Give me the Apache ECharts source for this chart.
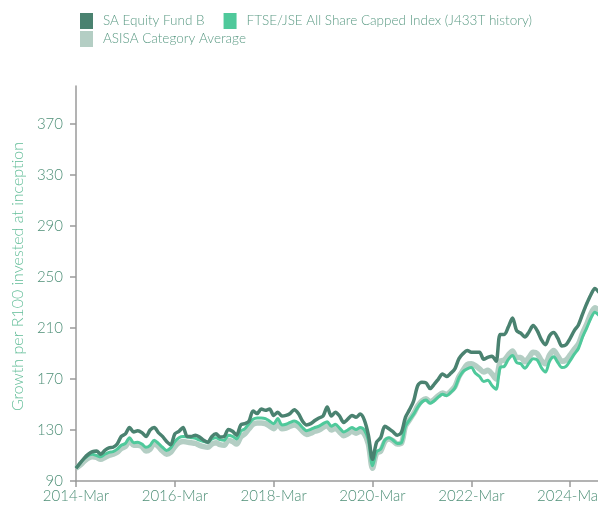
<!DOCTYPE html>
<html>
<head>
<meta charset="utf-8">
<script src="https://cdn.jsdelivr.net/npm/echarts@6/dist/echarts.min.js"></script>
<style>
html,body{margin:0;padding:0;background:#fff;}
#chart{width:598px;height:507px;}
</style>
</head>
<body>
<div id="chart"></div>
<script>
const startYear = 2014;
const monthNames = ['Jan','Feb','Mar','Apr','May','Jun','Jul','Aug','Sep','Oct','Nov','Dec'];
const yTicks = [90,130,170,210,250,290,330,370];

const fundB = [
100,104,108,111,113,113.5,111,114,116,116.5,
119,125,127,132,128.5,129.5,128,125,130,132,
128,125,121,118.5,127,129,132,125,125,126,
124.5,122,120.5,125,127,124.5,125,130.5,129,126,
134,135,137,145,143,146.5,145.5,146.5,141.5,144,
141,141.5,143,146,143,137,134,135,137.5,139.5,
141,148,141,144,141,136,138.5,141.5,140,142.5,
138,126,107,120.5,124,133,131,128.5,126,128,
140,146,153,165,167.5,167,162.5,166,170,174,
172,174.5,178,186,190,192.5,191,191,191,185.5,
187,188,184,205,205,211,218,208,206,203,
207,212,208,201,197,204,206.5,202,196,197,
202,208,212.5,221,229,236,241,238
];

const ftseJse = [
100,104,107.5,110,111,110,109,111,112.5,113,
115,118,119.5,124,120,120.5,119,116.5,118,122,
119.5,116.5,114,116,121,124,125,124.5,124,123.5,
122,121,120.5,123,124,122.5,122,126,125,123,
129,131,135,138.5,139.5,139.5,139,137,135,139,
134,134.5,136,137,135.5,132,129.5,130.5,132,133,
135,136.5,133,134.5,131.5,128.5,130,132,130.5,132,
130,122,102,113,115,122,124,122,119.5,120,
133,138,142.5,148,152,153.5,151,153,156,158,
157,159.5,163,171,176,178,179,174.5,172,168,
169,165,162,179,180,185.5,188.5,183,182,178.5,
182.5,186,185,179,175.5,184,187.5,183,179,180,
184.5,189.5,194,203,210,217.5,222.5,220
];

const asisaAvg = [
100,102.5,105.5,108,109,108.5,107,108.5,110,111,
112.5,115.5,117,121.5,118,118,117,113.5,115,119.5,
117,113.5,111,112.5,117,120,121,120.5,120,119.5,
118,117,116.5,119,120,118.5,118,122,121,119,
124.5,127,131,134.5,135.5,135.5,135,133,131,135,
131,131.5,133,134,132.5,129,126.5,127.5,129,130,
132,133.5,130,131.5,128.5,125.5,127,129,127.5,129,
127,119,100,112,113.5,121,123,121.5,119,119.5,
133,138,143,149,153,154.5,152,154,157,159,
158,160.5,164,172,177,181.5,182,180.5,178,175.5,
177,174,170,184,185,189,192,187,187,183.5,
187,191,190,184.5,182,189,192.5,188,184,185,
189,193.5,197.5,206,213,221,226,224
];

const categories = [];
for (let i = 0; i < fundB.length; i++) {
  const m = (2 + i) % 12;
  const y = startYear + Math.floor((2 + i) / 12);
  categories.push(y + '-' + monthNames[m]);
}

const names = ['SA Equity Fund B','FTSE/JSE All Share Capped Index (J433T history)','ASISA Category Average'];
const colors = ['#4a8270','#4fc99b','#b4cec4'];

const chart = echarts.init(document.getElementById('chart'), null, {renderer:'canvas'});
const fontFam = 'Lato, Roboto, sans-serif';
const legendText = {color:'#5c9b85', fontSize:13.5, fontFamily:fontFam, fontWeight:300, padding:[0,0,0,5]};
chart.setOption({
  animation:false,
  color: colors,
  legend: [
    {data:[{name:names[0]},{name:names[1]}], left:80, top:13, padding:0, icon:'rect', itemWidth:13, itemHeight:16, itemGap:19, textStyle:legendText, selectedMode:false},
    {data:[{name:names[2]}], left:80, top:31, padding:0, icon:'rect', itemWidth:13, itemHeight:16, textStyle:legendText, selectedMode:false}
  ],
  grid: {left:76, right:-1, top:86, bottom:26, outerBoundsMode:'none', containLabel:false},
  xAxis: {
    type:'category',
    data:categories,
    boundaryGap:false,
    axisLine:{lineStyle:{color:'#9a9a9a', width:1.5}},
    axisTick:{interval:23, length:6, lineStyle:{color:'#9a9a9a', width:1.5}},
    axisLabel:{interval:23, color:'#4e8f77', fontSize:15, fontFamily:fontFam, fontWeight:300, margin:8, hideOverlap:false},
    splitLine:{show:false}
  },
  yAxis: {
    type:'value',
    min:90, max:400,
    name:'Growth per R100 invested at inception',
    nameLocation:'middle',
    nameGap:48,
    nameTextStyle:{color:'#62bd98', fontSize:16, fontFamily:fontFam, fontWeight:300, padding:[0,0,0,14]},
    axisLine:{show:true, lineStyle:{color:'#9a9a9a', width:1.5}},
    axisTick:{show:true, length:6, customValues:yTicks, lineStyle:{color:'#9a9a9a', width:1.5}},
    axisLabel:{customValues:yTicks, color:'#4e8f77', fontSize:15, fontFamily:fontFam, fontWeight:300, margin:13},
    splitLine:{show:false}
  },
  series: [
    {name:names[2], type:'line', data:asisaAvg, showSymbol:false, smooth:0.3, lineStyle:{width:5.5, color:colors[2]}, itemStyle:{color:colors[2]}, z:2},
    {name:names[1], type:'line', data:ftseJse, showSymbol:false, smooth:0.3, lineStyle:{width:3, color:colors[1]}, itemStyle:{color:colors[1]}, z:3},
    {name:names[0], type:'line', data:fundB, showSymbol:false, smooth:0.3, lineStyle:{width:3.5, color:colors[0]}, itemStyle:{color:colors[0]}, z:4}
  ]
});
</script>
</body>
</html>
